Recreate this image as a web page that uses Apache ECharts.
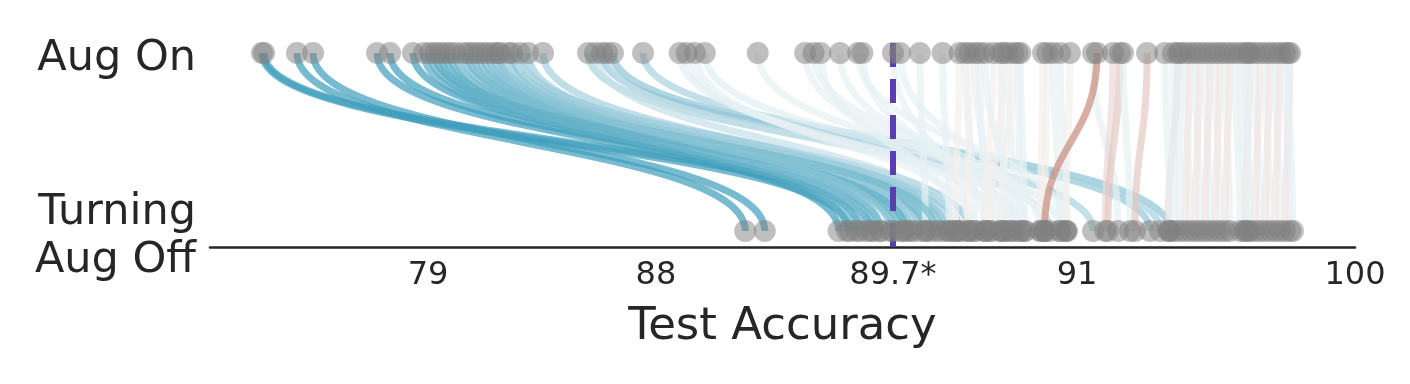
<!DOCTYPE html>
<html><head><meta charset="utf-8">
<script src="https://cdn.jsdelivr.net/npm/echarts@6/dist/echarts.min.js"></script>
<style>html,body{margin:0;padding:0;background:#fff}#c{width:1410px;height:384px}</style>
</head><body><div id="c"></div>
<script>
// ---------------- data ----------------
const rowLabels = ['Turning\nAug Off', 'Aug On'];
const tickValues = [79, 88, 89.7, 91, 100];
const tickLabels = ['79', '88', '89.7*', '91', '100'];
const baseline = 89.7;
const axisTitle = 'Test Accuracy';

// test accuracy of each run with augmentation on, and after turning it off (same order)
const augOn = [
  64.53, 64.71, 67.58, 68.98, 74.56, 75.69, 77.69, 78.65, 79.08, 79.28,
  79.47, 79.87, 80.07, 80.38, 80.58, 80.78, 81.17, 81.37, 81.57, 81.84,
  82.16, 82.32, 82.63, 82.95, 83.54, 85.32, 85.59, 85.87, 86.07, 86.30,
  87.49, 88.17, 88.22, 88.28, 88.35, 88.73, 89.07, 89.13, 89.18, 89.32,
  89.45, 89.48, 89.70, 89.75, 89.89, 90.05, 90.17, 90.21, 90.24, 90.28,
  90.31, 90.41, 90.46, 90.48, 90.51, 90.55, 90.60, 90.76, 90.79, 90.83,
  90.88, 90.95, 90.35, 90.58, 91.52, 91.65, 92.17, 92.39, 92.49, 93.27,
  94.27, 94.11, 93.85, 94.33, 94.50, 94.66, 94.82, 94.98, 95.14, 95.31,
  95.47, 95.63, 95.79, 95.95, 96.11, 96.28, 96.44, 96.60, 96.76, 96.92,
  97.09, 97.25, 97.41, 97.57, 97.73, 97.90, 97.83, 96.54, 79.67, 80.97,
  81.76
];
const augOff = [
  89.39, 89.54, 88.64, 88.78, 89.31, 89.46, 89.61, 89.37, 89.75, 89.93,
  89.56, 89.44, 89.70, 89.82, 90.07, 89.51, 89.89, 90.17, 89.61, 89.96,
  89.77, 90.03, 90.24, 89.84, 90.10, 91.52, 90.17, 93.36, 90.81, 94.01,
  93.69, 90.60, 90.46, 90.28, 90.88, 90.77, 90.53, 90.74, 90.14, 90.48,
  90.92, 90.35, 90.23, 90.63, 89.93, 90.10, 90.14, 90.28, 90.23, 90.39,
  90.35, 90.35, 90.49, 90.39, 90.56, 90.46, 90.63, 90.74, 90.77, 90.88,
  90.93, 90.92, 90.53, 90.60, 92.33, 90.77, 91.91, 92.00, 92.72, 92.88,
  93.95, 94.17, 94.01, 94.33, 94.66, 94.50, 94.98, 94.82, 95.31, 95.14,
  95.63, 95.47, 95.95, 95.79, 96.28, 96.44, 96.60, 96.44, 96.92, 96.76,
  97.25, 97.09, 97.57, 97.41, 97.90, 97.73, 97.99, 96.54, 89.79, 90.00,
  89.68
];

// ---------------- scale (non-uniform accuracy axis) ----------------
const scaleAcc = [60, 79, 88, 89.7, 91, 100];
const scalePos = [0, 19.04, 38.95, 59.65, 75.72, 100];
function warp(v) {
  for (let i = 1; i < scaleAcc.length; i++) {
    if (v <= scaleAcc[i] || i === scaleAcc.length - 1) {
      const t = (v - scaleAcc[i - 1]) / (scaleAcc[i] - scaleAcc[i - 1]);
      return scalePos[i - 1] + t * (scalePos[i] - scalePos[i - 1]);
    }
  }
}

// ---------------- styling ----------------
const INK = '#262626';
const FONT = 'DejaVu Sans';
const BLUE = [62, 158, 188], RED = [200, 138, 124], MID = [250, 250, 250];
function lineColor(d) {
  const c = d >= 0 ? BLUE : RED;
  let t = d >= 0 ? Math.pow(Math.min(1, d / 12), 1.3) : Math.min(1, -d / 0.88);
  t = Math.max(0.1, t);
  const mix = MID.map((m, i) => Math.round(m + (c[i] - m) * t));
  return 'rgb(' + mix.join(',') + ')';
}

const pairData = augOn.map((v, i) => [warp(v), warp(augOff[i]), augOff[i] - v]);
const topPts = augOn.map(v => [warp(v), 1]);
const botPts = augOff.map(v => [warp(v), 0]);

const chart = echarts.init(document.getElementById('c'), null, { renderer: 'canvas' });
chart.setOption({
  animation: false,
  backgroundColor: '#fff',
  grid: { left: 210, right: 55, top: 42.3, bottom: 137 },
  xAxis: {
    type: 'value', min: 0, max: 100,
    name: axisTitle, nameLocation: 'middle', nameGap: 58,
    nameTextStyle: { fontFamily: FONT, fontSize: 45, color: INK },
    axisLine: { show: true, onZero: false, lineStyle: { color: INK, width: 2.5 } },
    axisTick: { show: false },
    splitLine: { show: false },
    axisLabel: {
      customValues: tickValues.map(warp),
      formatter: v => {
        let best = 0;
        tickValues.forEach((t, i) => { if (Math.abs(warp(t) - v) < Math.abs(warp(tickValues[best]) - v)) best = i; });
        return tickLabels[best];
      },
      fontFamily: FONT, fontSize: 32, color: INK, margin: 13
    }
  },
  yAxis: {
    type: 'value', min: -0.09, max: 1.06,
    axisLine: { show: false }, axisTick: { show: false }, splitLine: { show: false },
    axisLabel: {
      customValues: [0, 1],
      formatter: v => {
        const lines = rowLabels[Math.round(v)].split('\n');
        return lines.map((s, i) => (i === 0 ? (lines.length > 1 ? '{p|' : '{s|') : '{q|') + s + '}').join('\n');
      },
      fontFamily: FONT, fontSize: 43, color: INK, margin: 14, align: 'right',
      rich: {
        s: { fontFamily: FONT, fontSize: 43, color: INK, lineHeight: 48, padding: [12, 0, 0, 0] },
        p: { fontFamily: FONT, fontSize: 43, color: INK, lineHeight: 48, padding: [12, 0, 0, 0] },
        q: { fontFamily: FONT, fontSize: 43, color: INK, lineHeight: 48, padding: [12, 0, 0, 0] }
      }
    }
  },
  series: [
    {
      type: 'custom', z: 1, silent: true,
      encode: { x: [0, 1] },
      data: pairData,
      renderItem: (params, api) => {
        const a = api.coord([api.value(0), 1]);
        const b = api.coord([api.value(1), 0]);
        const dy = b[1] - a[1], k = 0.5;
        return {
          type: 'bezierCurve',
          shape: { x1: a[0], y1: a[1], x2: b[0], y2: b[1], cpx1: a[0], cpy1: a[1] + k * dy, cpx2: b[0], cpy2: b[1] - k * dy },
          style: { stroke: lineColor(api.value(2)), lineWidth: 7, fill: null, opacity: 0.7 }
        };
      }
    },
    {
      type: 'scatter', z: 5, silent: true, symbolSize: 22, data: topPts,
      itemStyle: { color: '#808080', opacity: 0.5 }
    },
    {
      type: 'scatter', z: 5, silent: true, symbolSize: 22, data: botPts,
      itemStyle: { color: '#808080', opacity: 0.5 }
    },
    {
      type: 'line', z: 10, silent: true, data: [],
      markLine: {
        symbol: 'none', silent: true, label: { show: false },
        lineStyle: { color: '#5b3db3', width: 6, type: [24, 12], opacity: 1 },
        data: [{ xAxis: warp(baseline) }]
      }
    }
  ]
});
</script>
</body></html>
